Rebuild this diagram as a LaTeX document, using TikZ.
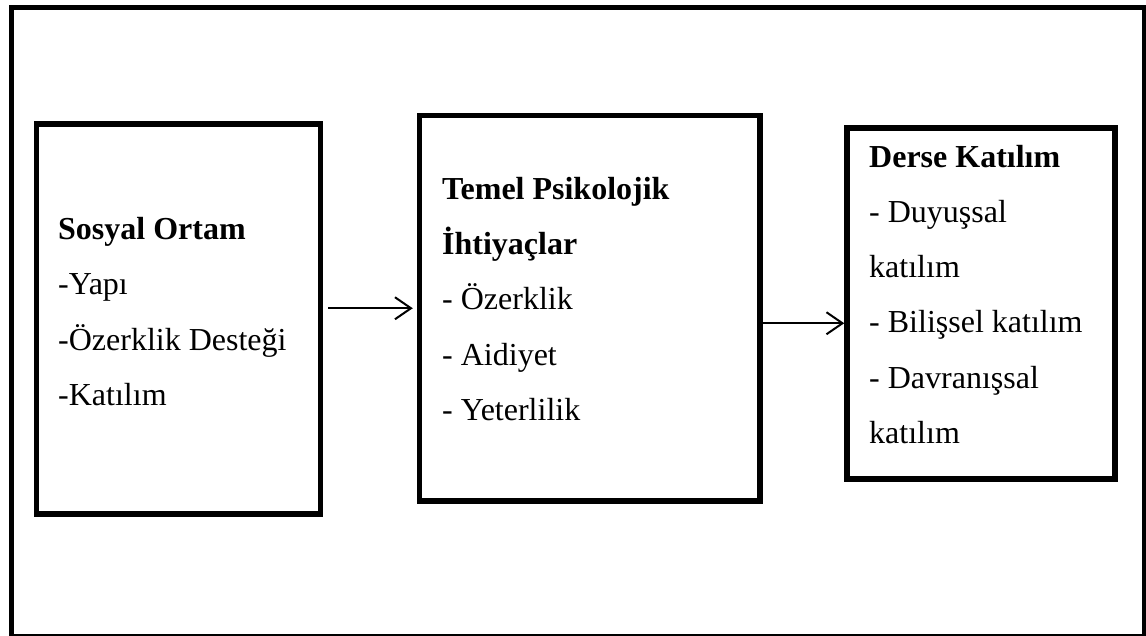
\documentclass[tikz,border=0pt]{standalone}
\usepackage{fontspec}
\setmainfont{Liberation Serif}
\usetikzlibrary{arrows.meta}
\begin{document}
\begin{tikzpicture}[x=1pt,y=-1pt,
  box/.style={draw=black,line width=5.5pt,rectangle,inner sep=0pt},
  txt/.style={anchor=base west,inner sep=0pt,font=\fontsize{32}{38}\selectfont},
  hd/.style={txt,font=\fontsize{32}{38}\selectfont\bfseries},
  arr/.style={line width=2pt,-{Straight Barb[length=16pt,width=22pt,line width=2pt]}}]
\useasboundingbox (0,0) rectangle (1146,636);
\fill[white] (0,0) rectangle (1146,636);
\draw[line width=5pt] (11,7.5) rectangle (1144,636);
% boxes
\node[box,minimum width=284pt,minimum height=390pt] (b1) at (178.5,319) {};
\node[box,minimum width=340.5pt,minimum height=385.5pt] (b2) at (589.75,308.25) {};
\node[box,minimum width=268pt,minimum height=351pt] (b3) at (981,303.5) {};
% box 1 text
\node[hd]  (t11) at (58,240) {Sosyal Ortam};
\node[txt] (t12) at (58,295) {-Yapı};
\node[txt] (t13) at (58,350) {-Özerklik Desteği};
\node[txt] (t14) at (58,405) {-Katılım};
% box 2 text
\node[hd]  (t21) at (442,200) {Temel Psikolojik};
\node[hd]  (t22) at (442,255) {İhtiyaçlar};
\node[txt] (t23) at (442,310) {- Özerklik};
\node[txt] (t24) at (442,365) {- Aidiyet};
\node[txt] (t25) at (442,420) {- Yeterlilik};
% box 3 text
\node[hd]  (t31) at (869,168) {Derse Katılım};
\node[txt] (t32) at (869,223) {- Duyuşsal};
\node[txt] (t33) at (869,278) {katılım};
\node[txt] (t34) at (869,333) {- Bilişsel katılım};
\node[txt] (t35) at (869,388) {- Davranışsal};
\node[txt] (t36) at (869,443) {katılım};
% arrows
\draw[arr,shorten <=5pt,shorten >=4pt] (b1.east |- b2.west) -- (b2.west);
\draw[arr] ([yshift=-15pt]b2.east) -- ([yshift=-15pt]b2.east -| b3.west);
\end{tikzpicture}
\end{document}
